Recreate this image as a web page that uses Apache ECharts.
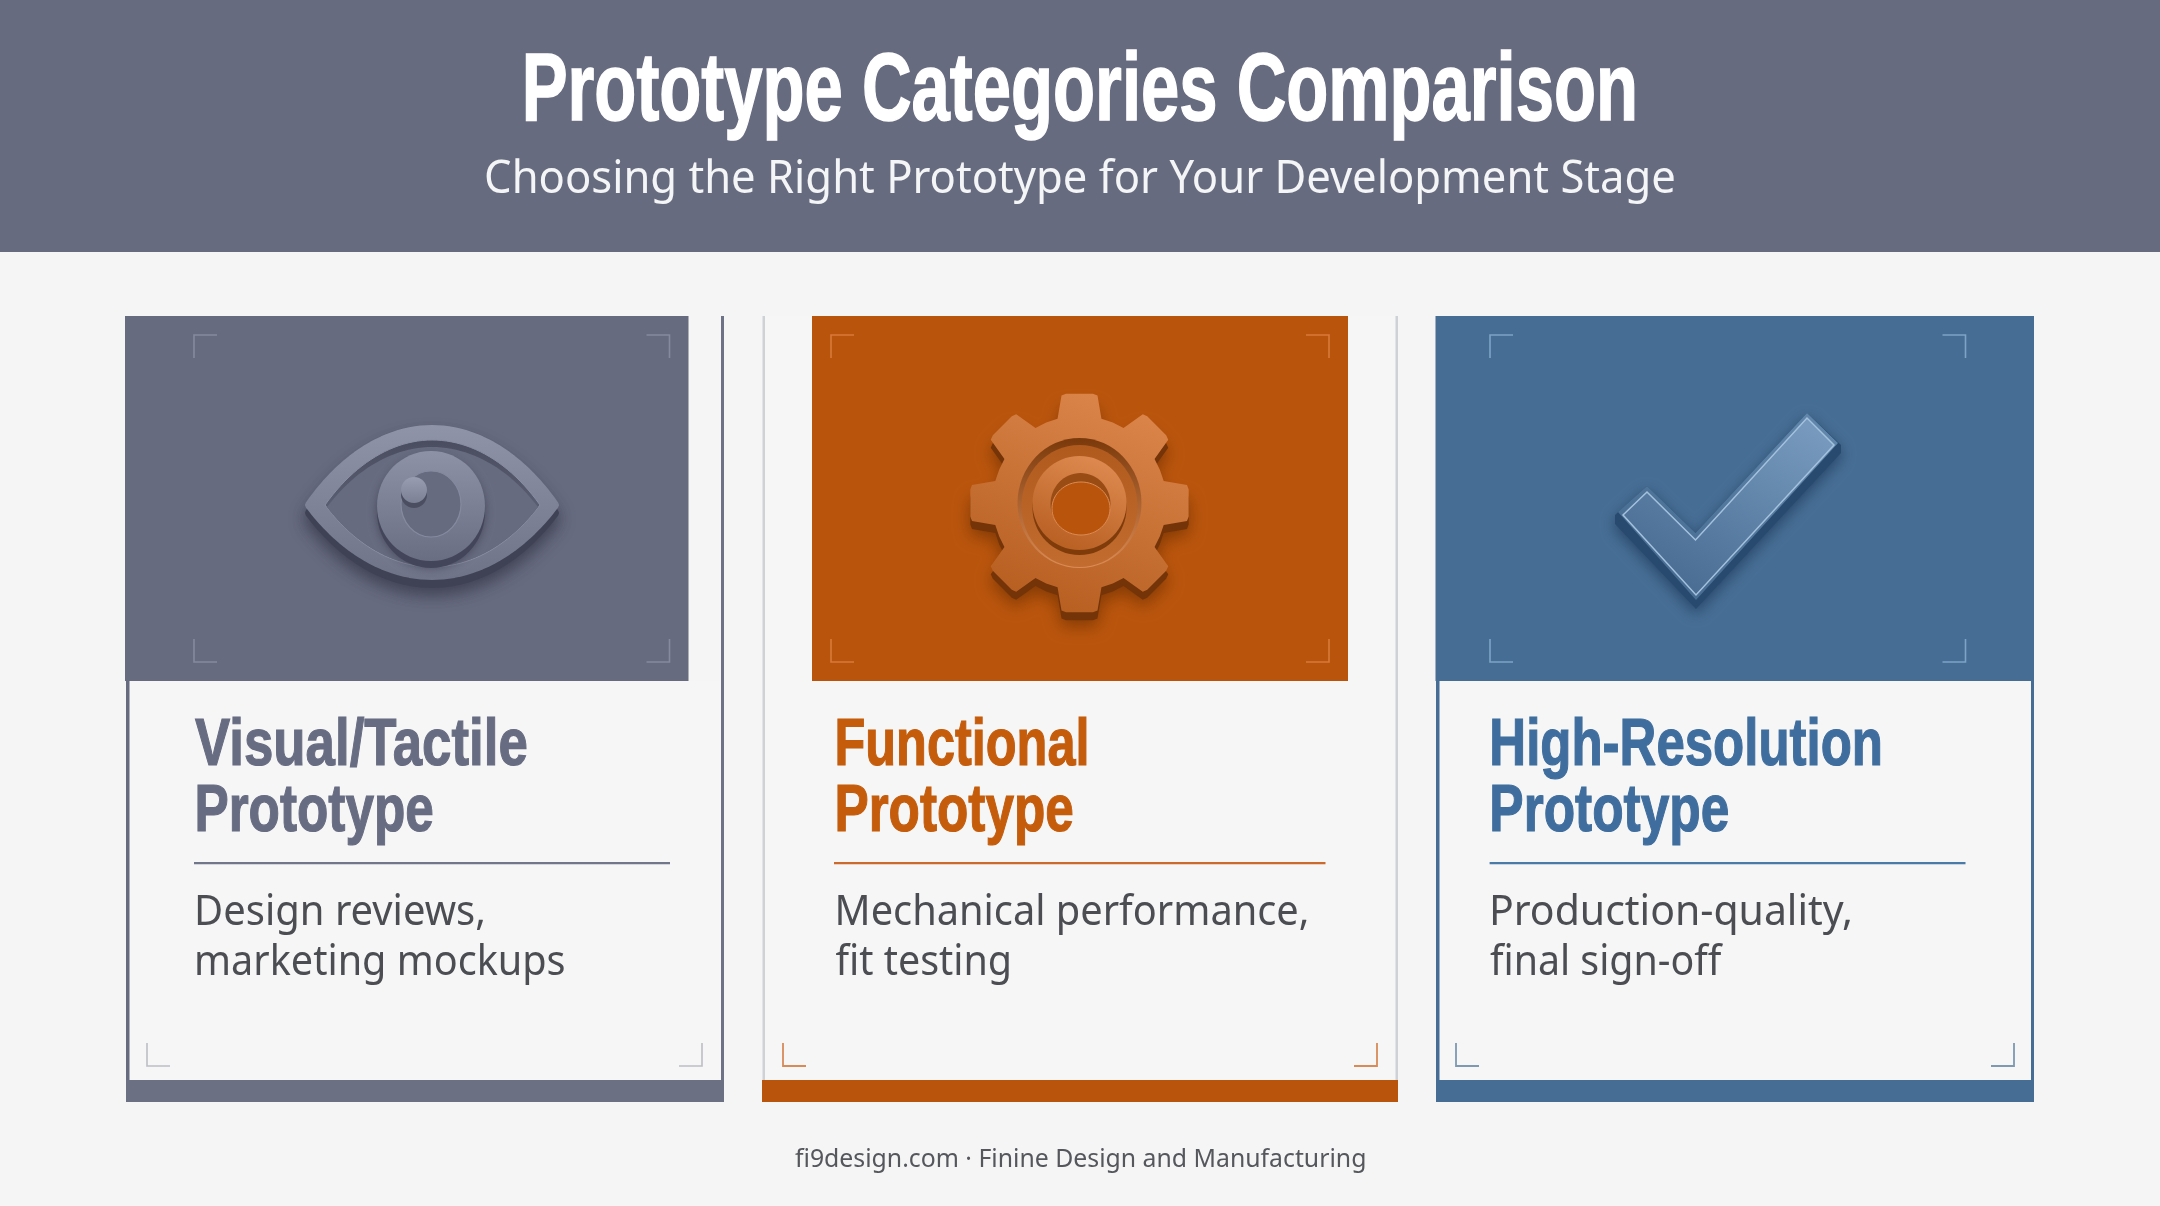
<!DOCTYPE html>
<html><head><meta charset="utf-8">
<style>html,body{margin:0;padding:0;background:#f4f5f4}#c{width:2160px;height:1206px}</style>
<script src="https://cdn.jsdelivr.net/npm/echarts@6/dist/echarts.min.js"></script>
</head><body><div id="c"></div>
<script>
const headerTitle = 'Prototype Categories Comparison';
const headerSubtitle = 'Choosing the Right Prototype for Your Development Stage';
const footerText = 'fi9design.com · Finine Design and Manufacturing';
const cardTitles = [['Visual/Tactile','Prototype'],['Functional','Prototype'],['High-Resolution','Prototype']];
const cardUses = [['Design reviews,','marketing mockups'],['Mechanical performance,','fit testing'],['Production-quality,','final sign-off']];

const SLATE='#676b7f', ORANGE='#b9540c', BLUE='#466d94', BG='#f4f5f4';
const HEAD='"Liberation Sans Narrow","Liberation Sans",sans-serif', BODY='"Noto Sans",sans-serif';
const LG=(x0,y0,x1,y1,a,b)=>new echarts.graphic.LinearGradient(x0,y0,x1,y1,[{offset:0,color:a},{offset:1,color:b}]);
const ctx=document.createElement('canvas').getContext('2d');
const els=[];
const rect=(x,y,w,h,fill,extra)=>els.push({type:'rect',shape:{x,y,width:w,height:h},style:Object.assign({fill},extra||{})});
const poly=(pts,style)=>els.push({type:'polygon',shape:{points:pts},style});
const circ=(cx,cy,rx,ry,style)=>els.push({type:'ellipse',shape:{cx,cy,rx,ry},style});

function text(str,x0,x1,base,size,family,weight,fill,thick){
  const f=`${weight} ${size}px ${family}`;
  ctx.font=f; ctx.textBaseline='alphabetic';
  const m=ctx.measureText(str);
  const left=-m.actualBoundingBoxLeft, w=m.actualBoundingBoxRight+m.actualBoundingBoxLeft;
  const sx=(x1-x0)/w;
  const dy=(m.fontBoundingBoxAscent-m.fontBoundingBoxDescent)/2;
  const style={text:str,fill,fontSize:size,fontFamily:family,fontWeight:weight,align:'left',verticalAlign:'middle'};
  if(thick){style.stroke=fill;style.lineWidth=thick;}
  els.push({type:'text',x:x0-left*sx,y:base-dy,scaleX:sx,style});
}
function corners(xl,xr,yt,yb,color,lw,topToo){
  const a=23;
  const L=(pts)=>els.push({type:'polyline',shape:{points:pts},style:{stroke:color,lineWidth:lw,fill:null}});
  if(topToo){
    L([[xl+a,yt],[xl,yt],[xl,yt+a]]);
    L([[xr-a,yt],[xr,yt],[xr,yt+a]]);
  }
  L([[xl,yb-a],[xl,yb],[xl+a,yb]]);
  L([[xr,yb-a],[xr,yb],[xr-a,yb]]);
}

// page + header
rect(0,0,2160,1206,BG);
rect(0,0,2160,252,SLATE);
text(headerTitle,526,1634,127.5,96,HEAD,'bold','#ffffff',1.5);
text(headerSubtitle,486,1674,198,46,BODY,'normal','#f4f5f6');

// cards: interior panel, frame lines, bottom bars, image panels
const TOP=316,IMGB=681,BARY=1080,BARB=1102;
const PANEL='#f5f6f5';
rect(129,681,592,399,PANEL);
rect(765,316,631,764,PANEL);
rect(1439,681,592,399,PANEL);
// card 1
rect(126,IMGB,3.5,BARY-IMGB,SLATE);
rect(721,TOP,3,BARY-TOP,'#6e7286');
rect(126,BARY,598,22,'#6c7083');
rect(125,TOP,563.5,IMGB-TOP,SLATE);
// card 2
rect(762.5,TOP,2.5,BARY-TOP,'#ced1d5');
rect(1395.5,TOP,2.5,BARY-TOP,'#ced1d5');
rect(762,BARY,636,22,ORANGE);
rect(812,TOP,536,IMGB-TOP,ORANGE);
// card 3
rect(1436,IMGB,3.5,BARY-IMGB,BLUE);
rect(2031,IMGB,3,BARY-IMGB,BLUE);
rect(1436,BARY,598,22,BLUE);
rect(1435.5,TOP,598.5,IMGB-TOP,BLUE);

// corner marks
corners(194,669.5,335,662,'#868a9f',1.6,true);
corners(831,1329,335,662,'#d97a3a',1.6,true);
corners(1490,1965.5,335,662,'#7fa3c8',1.6,true);
corners(147,702,1043,1066,'#bcbec6',1.6,false);
corners(783,1377,1043,1066,'#d88a58',1.8,false);
corners(1456,2014,1043,1066,'#7f99b3',1.8,false);

// eye icon: almond outline sampled from four cubic curves
const almond=(l,r,t,b,cx,cy)=>{
  const w=r-l, segs=[
    [[l,cy],[l+w*.14,t+(cy-t)*.35],[l+w*.32,t],[cx,t]],
    [[cx,t],[r-w*.32,t],[r-w*.14,t+(cy-t)*.35],[r,cy]],
    [[r,cy],[r-w*.14,b-(b-cy)*.35],[r-w*.32,b],[cx,b]],
    [[cx,b],[l+w*.32,b],[l+w*.14,b-(b-cy)*.35],[l,cy]]];
  const pts=[];
  segs.forEach(s=>{for(let k=0;k<24;k++){const u=k/24,v=1-u;
    pts.push([0,1].map(d=>v*v*v*s[0][d]+3*v*v*u*s[1][d]+3*v*u*u*s[2][d]+u*u*u*s[3][d]));}});
  return pts;
};
const eyeFace=LG(0,0,0,1,'#8f94a9','#6f7388');
poly(almond(309,555,434,584,432,513),{fill:'#3f4254',stroke:'#3f4254',lineWidth:8,lineJoin:'round',shadowBlur:16,shadowColor:'rgba(40,42,58,.6)',shadowOffsetY:6});
poly(almond(309,555,429,576,432,505),{fill:eyeFace,stroke:eyeFace,lineWidth:8,lineJoin:'round'});
poly(almond(325,540,440,567,432,505),{fill:LG(0,0,0,1,'#4a4d60','#696d81'),stroke:'#8a8ea3',lineWidth:1});
poly(almond(327,538,447,566,432,507),{fill:SLATE});
circ(431,512,54,56,{fill:'#43465a',shadowBlur:10,shadowColor:'rgba(40,42,58,.55)'});
circ(431,506,54,55,{fill:LG(0,0,0,1,'#8d92a6','#6a6e83')});
circ(431,504,30,33,{fill:SLATE,stroke:'#868aa0',lineWidth:1.2});
circ(414,495,13,13,{fill:'#4b4e61'});
circ(414,490,13,13,{fill:LG(0,0,0,1,'#989db1','#7b8095')});

// gear icon
const gcx=1079.5,gcy=503;
const gearPts=(rt,rb,rr,dy)=>{
  const p=[];
  for(let i=0;i<8;i++){
    const a=-Math.PI/2+i*Math.PI/4, d=Math.PI/180;
    [[rb,-14.6],[rt-1,-9.5],[rt,-7],[rt,7],[rt-1,9.5],[rb,14.6],[rr,22.5]].forEach(([r,o])=>{
      p.push([gcx+r*Math.cos(a+o*d),gcy+dy+r*Math.sin(a+o*d)]);
    });
  }
  return p;
};
poly(gearPts(110,87,87,8),{fill:'#743408',shadowBlur:16,shadowColor:'rgba(90,38,0,.55)',shadowOffsetY:6});
poly(gearPts(110,87,87,0),{fill:LG(0.7,0,0.3,1,'#dc864c','#b65e20')});
circ(gcx,gcy,62,65,{fill:LG(0,0,0,1,'#7a390b','#dc8c55')});
circ(gcx,gcy+3,58,61,{fill:LG(0,0,0,1,'#b05a1e','#c26c30')});
circ(gcx,gcy+5,47,47,{fill:'#7f3b0a'});
circ(gcx,gcy,47,47,{fill:LG(0.7,0,0.3,1,'#de8a50','#b85f22')});
circ(gcx+1,gcy+1,30,31,{fill:'#9a4c15'});
circ(gcx+1.5,gcy+5.5,29,26.5,{fill:ORANGE,stroke:'#dc8c55',lineWidth:1});

// check icon
poly([[1647,486],[1695.5,533],[1807,413],[1841,445],[1841,453],[1696,609],[1615,524],[1615,515]],{fill:'#274a6e',shadowBlur:14,shadowColor:'rgba(20,45,75,.6)',shadowOffsetY:5});
poly([[1647,486],[1695.5,533],[1807,413],[1838,443],[1696,600],[1618,512]],{fill:LG(0.8,0,0.2,1,'#6186ac','#456a90')});
poly([[1647,492],[1695.5,540],[1807,418],[1834,445],[1696,595],[1623,515]],{fill:LG(0.8,0,0.3,1,'#7699bd','#486c92'),stroke:'#a5c2dd',lineWidth:1.5});

// card text
const titleFill=['#686c82','#c55c0c','#3f6d9e'];
const ruleFill=['#72768b','#cb6a2c','#4a7aa8'];
const titleX=[[195,526,197.5,432],[837.5,1086,837.5,1072],[1492.4,1880,1492.4,1727.6]];
const ruleX=[[194,670],[834,1325.5],[1489.6,1965.5]];
const useX=[[[197,483],[197,564]],[[837.5,1306.5],[835.5,1009]],[[1492,1850],[1490,1723]]];
cardTitles.forEach((t,i)=>{
  text(t[0],titleX[i][0],titleX[i][1],770.5,67,HEAD,'bold',titleFill[i],1.2);
  text(t[1],titleX[i][2],titleX[i][3],836.5,67,HEAD,'bold',titleFill[i],1.2);
  rect(ruleX[i][0],862,ruleX[i][1]-ruleX[i][0],2.2,ruleFill[i]);
  cardUses[i].forEach((u,j)=>text(u,useX[i][j][0],useX[i][j][1],929+50*j,41,BODY,'normal','#4b4d52'));
});
text(footerText,795,1364.5,1170,26,BODY,'normal','#55575d');

const chart=echarts.init(document.getElementById('c'),null,{width:2160,height:1206,renderer:'canvas'});
chart.setOption({animation:false,backgroundColor:BG,graphic:{elements:els.map(e=>Object.assign({silent:true},e))}});
</script></body></html>
